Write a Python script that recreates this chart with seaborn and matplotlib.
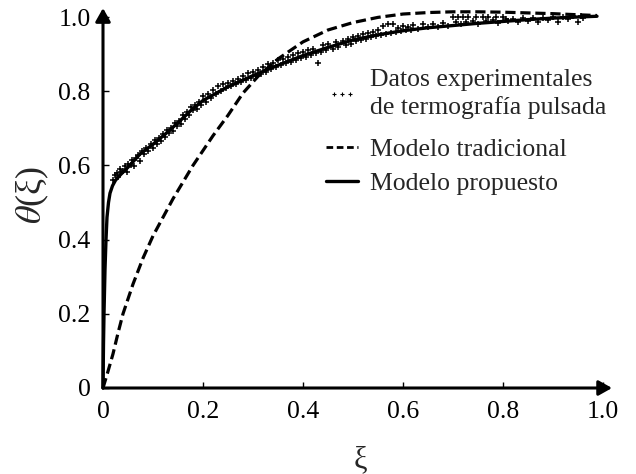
import matplotlib
matplotlib.use("Agg")
import matplotlib.pyplot as plt
import seaborn as sns
from matplotlib.lines import Line2D

# ---------------- data ----------------
prop_x = [0, 0.001, 0.002, 0.004, 0.006, 0.008, 0.011, 0.014, 0.019, 0.025, 0.035,
          0.05, 0.075, 0.1, 0.125, 0.15, 0.175, 0.2, 0.25, 0.3, 0.35, 0.4, 0.45,
          0.5, 0.55, 0.6, 0.65, 0.7, 0.75, 0.8, 0.85, 0.9, 0.95, 0.988]
prop_y = [0, 0.12, 0.2, 0.32, 0.40, 0.46, 0.50, 0.525, 0.545, 0.56, 0.575,
          0.595, 0.632, 0.657, 0.685, 0.715, 0.747, 0.775, 0.812, 0.842, 0.87,
          0.896, 0.918, 0.938, 0.952, 0.963, 0.971, 0.977, 0.983, 0.988, 0.993,
          0.997, 1.0, 1.002]

trad_x = [0, 0.01, 0.02, 0.03, 0.04, 0.06, 0.08, 0.1, 0.12, 0.14, 0.16, 0.18,
          0.2, 0.22, 0.25, 0.28, 0.31, 0.35, 0.4, 0.45, 0.5, 0.55, 0.6, 0.65,
          0.7, 0.75, 0.8, 0.85, 0.9, 0.95, 0.988]
trad_y = [0, 0.045, 0.092, 0.148, 0.2, 0.28, 0.35, 0.41, 0.46, 0.51, 0.555,
          0.60, 0.64, 0.68, 0.735, 0.795, 0.840, 0.887, 0.933, 0.965, 0.985,
          0.999, 1.008, 1.012, 1.014, 1.014, 1.013, 1.011, 1.009, 1.006, 1.004]

exp_x = [0.020, 0.024, 0.028, 0.030, 0.034, 0.036, 0.040, 0.044, 0.048, 0.050,
         0.055, 0.058, 0.062, 0.066, 0.070, 0.074, 0.078, 0.082, 0.086, 0.090,
         0.095, 0.100, 0.104, 0.108, 0.112, 0.116, 0.120, 0.124, 0.128, 0.132,
         0.136, 0.140, 0.144, 0.148, 0.152, 0.156, 0.160, 0.164, 0.168, 0.172,
         0.176, 0.180, 0.184, 0.188, 0.192, 0.196, 0.200, 0.205, 0.210, 0.215,
         0.220, 0.225, 0.230, 0.235, 0.240, 0.245, 0.250, 0.255, 0.260, 0.265,
         0.270, 0.275, 0.280, 0.285, 0.290, 0.295, 0.300, 0.305, 0.310, 0.315,
         0.320, 0.325, 0.330, 0.335, 0.340, 0.345, 0.350, 0.355, 0.360, 0.365,
         0.370, 0.375, 0.380, 0.385, 0.390, 0.395, 0.400, 0.405, 0.410, 0.415,
         0.420, 0.425, 0.430, 0.435, 0.440, 0.445, 0.450, 0.460, 0.465, 0.470,
         0.480, 0.485, 0.490, 0.495, 0.500, 0.505, 0.510, 0.515, 0.520, 0.525,
         0.530, 0.535, 0.540, 0.545, 0.550, 0.555, 0.560, 0.565, 0.570, 0.575,
         0.580, 0.585, 0.590, 0.595, 0.600, 0.605, 0.610, 0.615, 0.620, 0.630,
         0.640, 0.650, 0.660, 0.670, 0.680, 0.690, 0.700, 0.705, 0.710, 0.715,
         0.720, 0.725, 0.730, 0.740, 0.745, 0.750, 0.760, 0.765, 0.770, 0.780,
         0.785, 0.790, 0.800, 0.805, 0.810, 0.820, 0.830, 0.840, 0.850, 0.860,
         0.870, 0.880, 0.890, 0.900, 0.910, 0.920, 0.930, 0.940, 0.950, 0.955,
         0.960]
exp_y = [0.560, 0.575, 0.580, 0.570, 0.590, 0.583, 0.585, 0.598, 0.582, 0.605,
         0.600, 0.614, 0.598, 0.620, 0.628, 0.612, 0.640, 0.630, 0.648, 0.640,
         0.657, 0.648, 0.668, 0.658, 0.674, 0.665, 0.684, 0.676, 0.696, 0.686,
         0.702, 0.692, 0.714, 0.705, 0.720, 0.712, 0.737, 0.726, 0.744, 0.736,
         0.758, 0.748, 0.764, 0.752, 0.772, 0.762, 0.786, 0.772, 0.792, 0.781,
         0.802, 0.792, 0.813, 0.800, 0.819, 0.808, 0.823, 0.814, 0.828, 0.820,
         0.834, 0.825, 0.840, 0.830, 0.850, 0.836, 0.852, 0.842, 0.858, 0.846,
         0.864, 0.853, 0.872, 0.860, 0.877, 0.866, 0.884, 0.870, 0.888, 0.876,
         0.892, 0.880, 0.897, 0.885, 0.902, 0.890, 0.907, 0.893, 0.912, 0.898,
         0.914, 0.902, 0.876, 0.907, 0.924, 0.910, 0.928, 0.915, 0.932, 0.920,
         0.936, 0.925, 0.940, 0.928, 0.947, 0.935, 0.950, 0.938, 0.954, 0.942,
         0.957, 0.946, 0.960, 0.950, 0.964, 0.952, 0.977, 0.955, 0.980, 0.958,
         0.980, 0.960, 0.970, 0.962, 0.977, 0.965, 0.974, 0.966, 0.978, 0.968,
         0.980, 0.972, 0.982, 0.974, 0.984, 0.976, 1.000, 0.986, 1.000, 0.980,
         1.000, 0.986, 1.000, 0.988, 1.000, 0.982, 1.000, 0.990, 1.000, 0.992,
         1.000, 0.985, 1.000, 0.994, 0.988, 0.994, 0.987, 0.996, 0.990, 0.997,
         0.987, 0.998, 0.992, 1.000, 0.987, 1.000, 0.995, 1.002, 0.987, 1.003,
         0.998]

x_ticks = [0, 0.2, 0.4, 0.6, 0.8, 1.0]
x_ticklabels = ["0", "0.2", "0.4", "0.6", "0.8", "1.0"]
y_ticks = [0, 0.2, 0.4, 0.6, 0.8, 1.0]
y_ticklabels = ["0", "0.2", "0.4", "0.6", "0.8", "1.0"]

lbl_exp = "Datos experimentales\nde termografía pulsada"
lbl_trad = "Modelo tradicional"
lbl_prop = "Modelo propuesto"

# ---------------- style ----------------
sns.set_style("white")
plt.rcParams["font.family"] = ["Liberation Serif", "DejaVu Serif"]
plt.rcParams["mathtext.fontset"] = "stix"

W, H = 636, 474
fig = plt.figure(figsize=(W / 100, H / 100), dpi=100)
x0px, y0px, xu, yu = 103, 388, 500, 371
xmax, ymax = 1.03, 1.04
ax = fig.add_axes([x0px / W, (H - y0px) / H, xmax * xu / W, ymax * yu / H])

sns.scatterplot(x=exp_x, y=exp_y, ax=ax, marker="+", s=22, color="black",
                linewidth=1.1, legend=False, zorder=2)
sns.lineplot(x=trad_x, y=trad_y, ax=ax, color="black", lw=2.3,
             estimator=None, sort=False, zorder=3)
ax.lines[-1].set_dashes([3.2, 1.5])
sns.lineplot(x=prop_x, y=prop_y, ax=ax, color="black", lw=2.4,
             estimator=None, sort=False, zorder=4)
for ln in ax.lines:
    ln.set_clip_on(False)

ax.set_xlim(0, xmax)
ax.set_ylim(0, ymax)
for s in ax.spines.values():
    s.set_visible(False)

ax.set_xticks(x_ticks)
ax.set_xticklabels(x_ticklabels)
ax.set_yticks(y_ticks)
ax.set_yticklabels(y_ticklabels)
ax.tick_params(direction="in", length=4, width=1, labelsize=18.5, pad=9,
               color="black", labelcolor="black",
               bottom=True, left=True, top=False, right=False)

arrow = dict(arrowstyle="-|>,head_width=0.45,head_length=0.8", lw=2.2,
             color="black", shrinkA=0, shrinkB=0)
ax.annotate("", xy=(0, 1.024), xytext=(0, 0), xycoords="data",
            arrowprops=arrow, annotation_clip=False)
ax.annotate("", xy=(1.018, 0), xytext=(0, 0), xycoords="data",
            arrowprops=arrow, annotation_clip=False)

ax.set_xlabel("ξ", fontsize=22, labelpad=16)
ax.set_ylabel(r"$\theta$(ξ)", fontsize=26, labelpad=5)

h_exp = Line2D([], [], ls="none", marker="+", markersize=3,
               markeredgewidth=0.8, color="black")
h_trad = Line2D([], [], ls=(0, (2.4, 1.3)), lw=2.0, color="black")
h_prop = Line2D([], [], ls="-", lw=2.4, color="black")

common = dict(loc="upper left", frameon=False, fontsize=18.5,
              handlelength=1.25, handletextpad=0.45, borderpad=0,
              borderaxespad=0)
leg1 = fig.legend([h_exp], [lbl_exp], bbox_to_anchor=(326 / W, 1 - 69 / H),
                  numpoints=3, **common)
for t in leg1.get_texts():
    t.set_linespacing(1.28)
leg2 = fig.legend([h_trad, h_prop], [lbl_trad, lbl_prop],
                  bbox_to_anchor=(326 / W, 1 - 138 / H), labelspacing=0.42,
                  **common)

fig.savefig("out.png", dpi=100, facecolor="white")
